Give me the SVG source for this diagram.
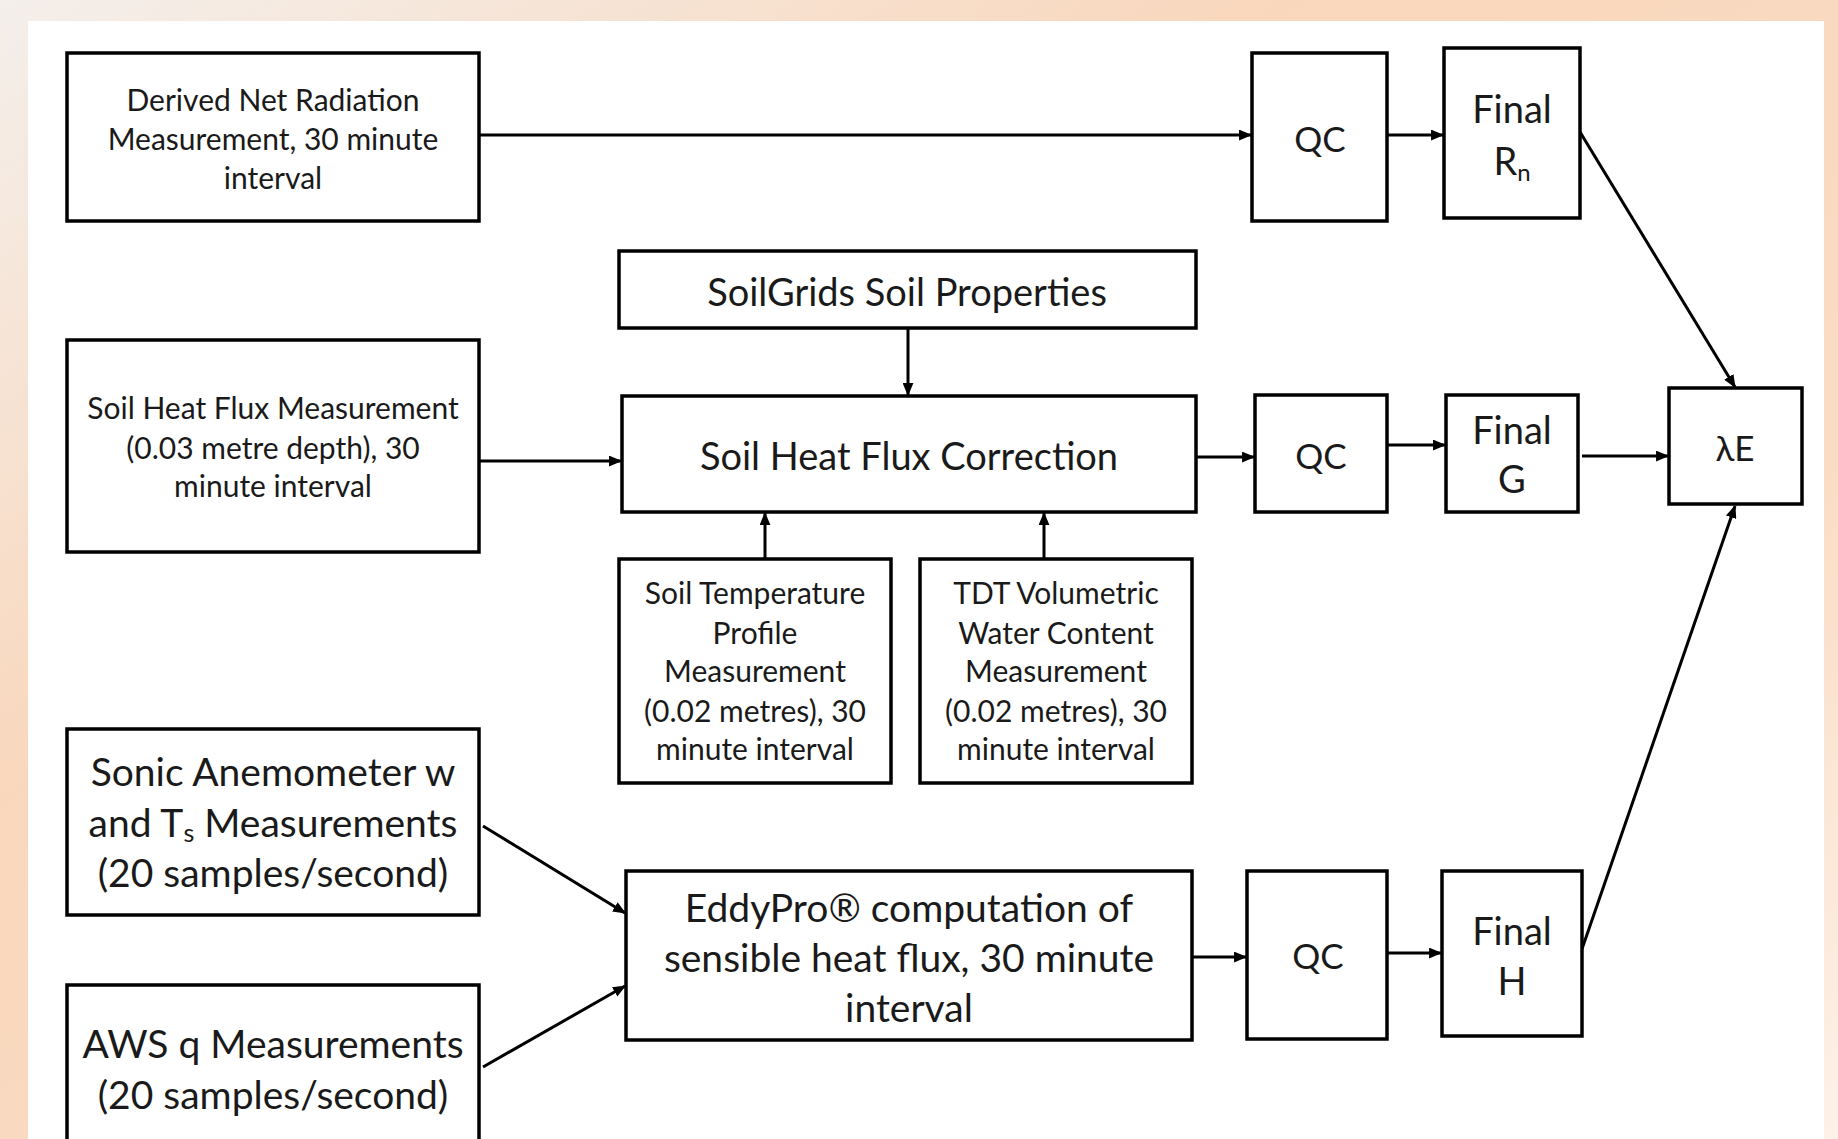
<svg xmlns="http://www.w3.org/2000/svg" width="1838" height="1139" viewBox="0 0 1838 1139">
<defs>
<linearGradient id="bg" x1="0" y1="0" x2="1" y2="1">
<stop offset="0" stop-color="#f4efeb"/>
<stop offset="0.35" stop-color="#f9d7bc"/>
<stop offset="0.7" stop-color="#fadcc4"/>
<stop offset="1" stop-color="#fdf1e8"/>
</linearGradient>
<marker id="ah" viewBox="0 0 12 10" refX="11" refY="5" markerWidth="13" markerHeight="11" markerUnits="userSpaceOnUse" orient="auto">
<path d="M0,0 L12,5 L0,10 Z" fill="#000"/>
</marker>
<style>
.box{fill:#fff;stroke:#000;stroke-width:3.5}
.t{font-family:Lato,"Open Sans","Liberation Sans",sans-serif;fill:#1a1a1a;text-anchor:middle;dominant-baseline:central}
.s{font-size:30px}
.m{font-size:38px}
.q{font-size:35px}
.l{font-size:39px}
.c{stroke:#000;stroke-width:3;fill:none;marker-end:url(#ah)}
</style>
</defs>
<rect x="0" y="0" width="1838" height="1139" fill="url(#bg)"/>
<rect x="28" y="21" width="1796" height="1118" fill="#fff"/>

<g id="connectors">
<line class="c" x1="480" y1="135" x2="1251" y2="135"/>
<line class="c" x1="1387" y1="135" x2="1443" y2="135"/>
<line class="c" x1="1580" y1="132" x2="1735" y2="387"/>
<line class="c" x1="908" y1="329" x2="908" y2="395"/>
<line class="c" x1="480" y1="461" x2="621" y2="461"/>
<line class="c" x1="1197" y1="457" x2="1254" y2="457"/>
<line class="c" x1="1387" y1="445" x2="1445" y2="445"/>
<line class="c" x1="1582" y1="456" x2="1668" y2="456"/>
<line class="c" x1="765" y1="558" x2="765" y2="513"/>
<line class="c" x1="1044" y1="558" x2="1044" y2="513"/>
<line class="c" x1="483" y1="826" x2="625" y2="913"/>
<line class="c" x1="483" y1="1067" x2="625" y2="986"/>
<line class="c" x1="1192" y1="957" x2="1246" y2="957"/>
<line class="c" x1="1387" y1="953" x2="1441" y2="953"/>
<line class="c" x1="1582" y1="949" x2="1735" y2="506"/>
</g>

<g id="derived-net-radiation">
<rect class="box" x="67" y="53" width="412" height="168"/>
<text class="t s" x="273" y="99">Derived Net Radiation</text>
<text class="t s" x="273" y="138">Measurement, 30 minute</text>
<text class="t s" x="273" y="177">interval</text>
</g>
<g id="qc1">
<rect class="box" x="1252" y="53" width="135" height="168"/>
<text class="t q" x="1320" y="138">QC</text>
</g>
<g id="final-rn">
<rect class="box" x="1444" y="48" width="136" height="170"/>
<text class="t m" x="1512" y="108">Final</text>
<text class="t m" x="1512" y="160">R<tspan font-size="24" dy="11">n</tspan></text>
</g>
<g id="soilgrids">
<rect class="box" x="619" y="251" width="577" height="77"/>
<text class="t m" x="907" y="291">SoilGrids Soil Properties</text>
</g>
<g id="shf-measurement">
<rect class="box" x="67" y="340" width="412" height="212"/>
<text class="t s" x="273" y="407">Soil Heat Flux Measurement</text>
<text class="t s" x="273" y="447">(0.03 metre depth), 30</text>
<text class="t s" x="273" y="485">minute interval</text>
</g>
<g id="shf-correction">
<rect class="box" x="622" y="396" width="574" height="116"/>
<text class="t m" x="909" y="455">Soil Heat Flux Correction</text>
</g>
<g id="qc2">
<rect class="box" x="1255" y="395" width="132" height="117"/>
<text class="t q" x="1321" y="455">QC</text>
</g>
<g id="final-g">
<rect class="box" x="1446" y="395" width="132" height="117"/>
<text class="t m" x="1512" y="429">Final</text>
<text class="t m" x="1512" y="478">G</text>
</g>
<g id="lambda-e">
<rect class="box" x="1669" y="388" width="133" height="116"/>
<text class="t q" x="1735" y="447">λE</text>
</g>
<g id="soil-temp">
<rect class="box" x="619" y="559" width="272" height="224"/>
<text class="t s" x="755" y="592">Soil Temperature</text>
<text class="t s" x="755" y="632">Profile</text>
<text class="t s" x="755" y="670">Measurement</text>
<text class="t s" x="755" y="710">(0.02 metres), 30</text>
<text class="t s" x="755" y="748">minute interval</text>
</g>
<g id="tdt">
<rect class="box" x="920" y="559" width="272" height="224"/>
<text class="t s" x="1056" y="592">TDT Volumetric</text>
<text class="t s" x="1056" y="632">Water Content</text>
<text class="t s" x="1056" y="670">Measurement</text>
<text class="t s" x="1056" y="710">(0.02 metres), 30</text>
<text class="t s" x="1056" y="748">minute interval</text>
</g>
<g id="sonic">
<rect class="box" x="67" y="729" width="412" height="186"/>
<text class="t l" x="273" y="771">Sonic Anemometer w</text>
<text class="t l" x="273" y="822">and T<tspan font-size="25" dy="10">s</tspan><tspan dy="-10"> Measurements</tspan></text>
<text class="t l" x="273" y="872">(20 samples/second)</text>
</g>
<g id="aws">
<rect class="box" x="67" y="985" width="412" height="170"/>
<text class="t l" x="273" y="1043">AWS q Measurements</text>
<text class="t l" x="273" y="1094">(20 samples/second)</text>
</g>
<g id="eddypro">
<rect class="box" x="626" y="871" width="566" height="169"/>
<text class="t l" x="909" y="907">EddyPro® computation of</text>
<text class="t l" x="909" y="957">sensible heat flux, 30 minute</text>
<text class="t l" x="909" y="1007">interval</text>
</g>
<g id="qc3">
<rect class="box" x="1247" y="871" width="140" height="168"/>
<text class="t q" x="1318" y="955">QC</text>
</g>
<g id="final-h">
<rect class="box" x="1442" y="871" width="140" height="165"/>
<text class="t m" x="1512" y="930">Final</text>
<text class="t m" x="1512" y="980">H</text>
</g>
</svg>
